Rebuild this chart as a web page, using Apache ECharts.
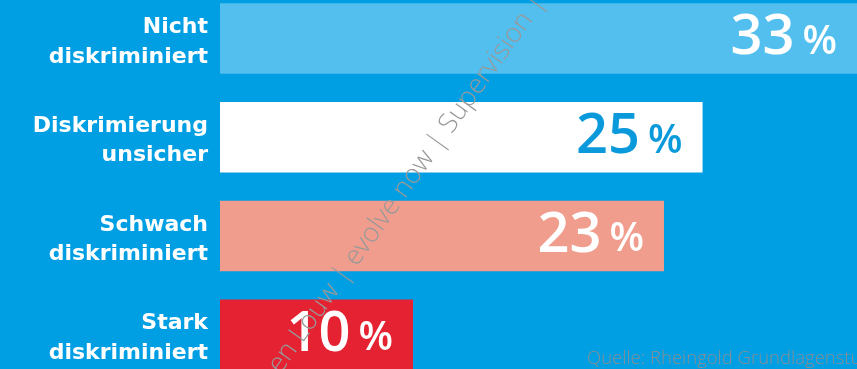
<!DOCTYPE html>
<html>
<head>
<meta charset="utf-8">
<script src="https://cdn.jsdelivr.net/npm/echarts@6/dist/echarts.min.js"></script>
<style>
  html, body { margin: 0; padding: 0; background: #009FE3; overflow: hidden; width: 857px; height: 369px; }
  /* the plot canvas is a little taller than the view and shifted up, so the
     first and last bars sit flush against the top and bottom edges */
  #chart { position: absolute; left: 0; top: -11px; width: 857px; height: 395px; }
</style>
</head>
<body>
<div id="chart"></div>
<script>
// Anteile je Gruppe (Prozent)
const categories = [
  'Nicht\ndiskriminiert',
  'Diskrimierung\nunsicher',
  'Schwach\ndiskriminiert',
  'Stark\ndiskriminiert'
];
const values = [33, 25, 23, 10];
const barColors = ['#52BFEE', '#FFFFFF', '#F19D8D', '#E42232'];
const labelColors = ['#FFFFFF', '#0A9ADC', '#FFFFFF', '#FFFFFF'];

const watermarkText = 'en Louw | evolve now | Supervision |';
const sourceText = 'Quelle: Rheingold Grundlagenstudie';

const chart = echarts.init(document.getElementById('chart'), null, { renderer: 'canvas' });

const seriesData = values.map((v, i) => ({
  value: v,
  itemStyle: { color: barColors[i] },
  label: { rich: {
    n: { color: labelColors[i] },
    p: { color: labelColors[i] }
  } }
}));

const angle = 54.5 * Math.PI / 180;

// top padding on each line nudges the two-line block down and opens the gap
const catLabel = v => {
  const parts = v.split('\n');
  return '{a|' + parts[0] + '}\n{b|' + parts[1] + '}';
};

const catText = {
  color: '#FFFFFF',
  fontFamily: 'DejaVu Sans',
  fontWeight: 'bold',
  fontSize: 22,
  lineHeight: 33
};

chart.setOption({
  backgroundColor: '#009FE3',
  animation: false,
  grid: { left: 220, right: 0, top: 0, bottom: 0, containLabel: false },
  xAxis: {
    type: 'value',
    min: 0,
    max: 33,
    show: false
  },
  yAxis: {
    type: 'category',
    inverse: true,
    data: categories,
    axisLine: { show: false },
    axisTick: { show: false },
    splitLine: { show: false },
    axisLabel: {
      align: 'right',
      margin: 12,
      formatter: catLabel,
      rich: {
        a: Object.assign({ padding: [11, 0, 0, 0] }, catText),
        b: Object.assign({ padding: [4, 0, 0, 0] }, catText)
      }
    }
  },
  series: [{
    type: 'bar',
    data: seriesData,
    barWidth: 70.5,
    label: {
      show: true,
      position: 'insideRight',
      distance: 20,
      formatter: p => '{n|' + p.value + '}{p|%}',
      rich: {
        n: {
          fontFamily: 'Open Sans',
          fontWeight: 600,
          fontSize: 56,
          verticalAlign: 'bottom'
        },
        p: {
          fontFamily: 'Open Sans',
          fontWeight: 600,
          fontSize: 40,
          verticalAlign: 'bottom',
          padding: [0, 0, 4, 8]
        }
      }
    }
  }],
  graphic: [
    {
      type: 'text',
      x: 274,
      y: 381,
      rotation: angle,
      silent: true,
      z: 100,
      style: {
        text: watermarkText,
        fill: '#999999',
        font: '300 27px "Open Sans"',
        textAlign: 'left',
        textVerticalAlign: 'middle'
      }
    },
    {
      type: 'text',
      x: 587,
      y: 379,
      silent: true,
      z: 100,
      style: {
        text: sourceText,
        fill: '#8A8E92',
        font: '300 18.5px "Open Sans"',
        textAlign: 'left',
        textVerticalAlign: 'bottom'
      }
    }
  ]
});
</script>
</body>
</html>
